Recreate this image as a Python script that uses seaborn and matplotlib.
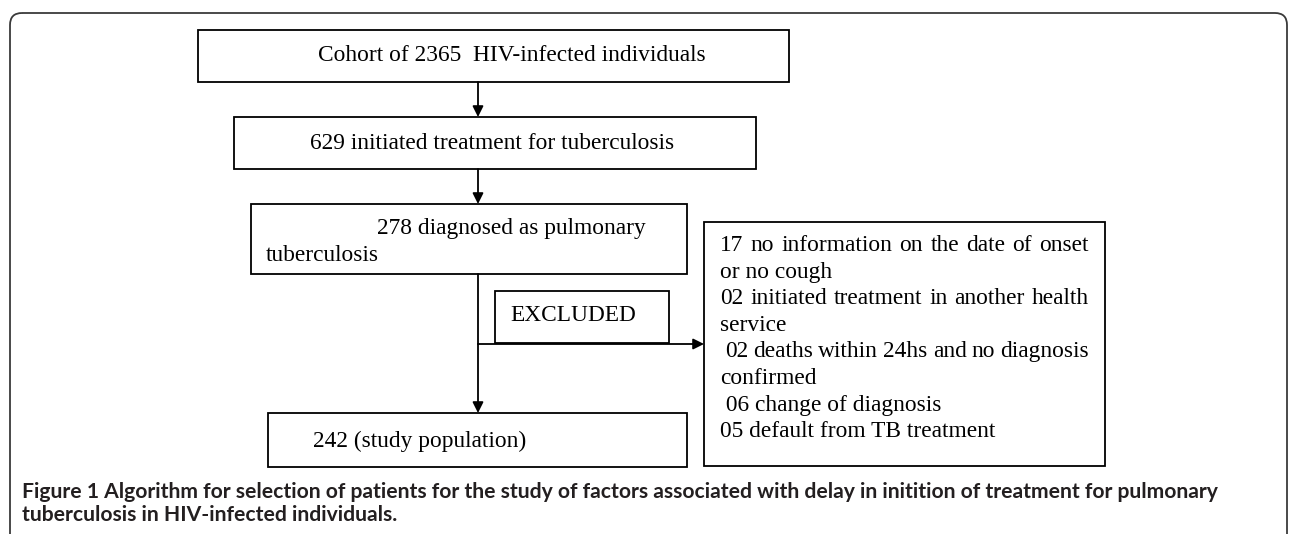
import matplotlib
matplotlib.use("Agg")
import matplotlib.pyplot as plt
import seaborn as sns
from matplotlib.patches import Rectangle, FancyBboxPatch

# flowchart labels
cohort_label = "Cohort of 2365  HIV-infected individuals"
treated_label = "629 initiated treatment for tuberculosis"
pulmonary_lines = ["278 diagnosed as pulmonary", "tuberculosis"]
excluded_label = "EXCLUDED"
study_label = "242 (study population)"
excluded_reasons = [
    "17 no information on the date of onset",
    "or no cough",
    "02 initiated treatment in another health",
    "service",
    " 02 deaths within 24hs and no diagnosis",
    "confirmed",
    " 06 change of diagnosis",
    "05 default from TB treatment",
]
justified = [True, False, True, False, True, False, False, False]
caption_bold = "Figure 1"
caption_lines = [
    " Algorithm for selection of patients for the study of factors associated with delay in initition of treatment for pulmonary",
    "tuberculosis in HIV-infected individuals.",
]

sns.set_style("white")
serif = ["Liberation Serif", "DejaVu Serif"]
fs = 16.8

fig = plt.figure(figsize=(12.9, 5.34), dpi=100)
ax = fig.add_axes([0, 0, 1, 1])
ax.set_xlim(0, 1290)
ax.set_ylim(534, 0)
ax.axis("off")

# outer frame, rounded, open at bottom
ax.add_patch(FancyBboxPatch((10, 13), 1277, 600,
                            boxstyle="round,pad=0,rounding_size=12",
                            fill=False, ec="#3a3a3a", lw=1.3, clip_on=True))


def box(x0, y0, x1, y1):
    ax.add_patch(Rectangle((x0, y0), x1 - x0, y1 - y0, fill=False,
                           ec="black", lw=1.3))


def arrow(x0, y0, x1, y1):
    ax.annotate("", xy=(x1, y1), xytext=(x0, y0),
                arrowprops=dict(arrowstyle="-|>", color="black", lw=1.3,
                                mutation_scale=16, shrinkA=0, shrinkB=0))


def txt(x, y, s):
    return ax.text(x, y + 1.5, s, family=serif, fontsize=fs, ha="left",
                   va="center", color="black")


box(198, 30, 789, 82)
txt(318, 54, cohort_label)
arrow(478, 82, 478, 117)

box(234, 117, 756, 169)
txt(310, 142, treated_label)
arrow(478, 169, 478, 204)

box(251, 204, 687, 274)
txt(377, 227, pulmonary_lines[0])
txt(266, 254, pulmonary_lines[1])

box(495, 291, 669, 343)
txt(510, 314, excluded_label)

ax.plot([478, 478], [274, 344], color="black", lw=1.3)
arrow(478, 344, 478, 413)
arrow(478, 344, 704, 344)

box(268, 413, 687, 467)
txt(313, 440, study_label)

box(704, 222, 1105, 466)
fig.canvas.draw()
renderer = fig.canvas.get_renderer()
inv = ax.transData.inverted()
right = 1089
for i, (line, just) in enumerate(zip(excluded_reasons, justified)):
    y = 244 + i * 26.6
    if not just:
        txt(720, y, line)
        continue
    lead = 725 if line.startswith(" ") else 720
    words = line.split()
    arts = [txt(0, y, w) for w in words]
    widths = []
    for a in arts:
        bb = a.get_window_extent(renderer)
        x0 = inv.transform((bb.x0, 0))[0]
        x1 = inv.transform((bb.x1, 0))[0]
        widths.append(x1 - x0)
    gap = (right - lead - sum(widths)) / (len(words) - 1)
    x = lead
    for a, w in zip(arts, widths):
        a.set_x(x)
        x += w + gap

# caption
cap_font = ["Lato", "DejaVu Sans"]
cap_fs = 15.2
t1 = ax.text(22, 492, caption_bold, family=cap_font, fontsize=cap_fs,
             fontweight="bold", color="#231f20", ha="left", va="center")
fig.canvas.draw()
bb = t1.get_window_extent(renderer)
xb = inv.transform((bb.x1, 0))[0]
ax.text(xb, 492, caption_lines[0], family=cap_font, fontsize=cap_fs,
        fontweight="bold", color="#231f20", ha="left", va="center")
ax.text(22, 515, caption_lines[1], family=cap_font, fontsize=cap_fs,
        fontweight="bold", color="#231f20", ha="left", va="center")

fig.savefig("out.png", dpi=100)
